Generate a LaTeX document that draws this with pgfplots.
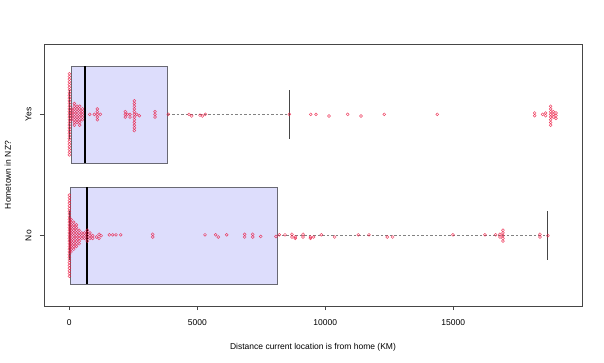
\documentclass[border=0pt]{standalone}
\usepackage{fontspec}
\setmainfont{Liberation Sans}
\usepackage{pgfplots}
\usepackage{pgfplotstable}
\pgfplotsset{compat=1.18}
\definecolor{boxfill}{RGB}{221,221,252}
\definecolor{boxedge}{RGB}{105,105,115}
\definecolor{ptc}{RGB}{235,25,65}
\definecolor{framec}{RGB}{70,70,70}
\definecolor{whisk}{RGB}{130,130,130}

\pgfplotstableread[row sep=\\]{
x k\\
0 -15\\0 -14\\0 -13\\0 -12\\0 -11\\0 -10\\0 -9\\0 -8\\0 -7\\0 -6\\0 -5\\0 -4\\0 -3\\0 -2\\0 -1\\0 0\\0 1\\0 2\\0 3\\0 4\\0 5\\0 6\\0 7\\0 8\\0 9\\0 10\\0 11\\0 12\\0 13\\0 14\\0 15\\
90 -2\\90 -1\\90 0\\90 1\\90 2\\
195 -4\\195 -3\\195 -2\\195 -1\\195 0\\195 1\\195 2\\195 3\\195 4\\
300 -3\\300 -2\\300 -1\\300 0\\300 1\\300 2\\300 3\\
405 -4\\405 -3\\405 -2\\405 -1\\405 0\\405 1\\405 2\\405 3\\
510 -2\\510 -1\\510 0\\510 1\\510 2\\
797 0\\977 0\\1094 -2\\1094 -1\\1094 0\\1094 1\\1094 2\\1211 0\\
2187 -1\\2187 0\\2187 1\\2265 0\\2370 -1\\2370 0\\
2539 -6\\2539 -5\\2539 -4\\2539 -3\\2539 -2\\2539 -1\\2539 0\\2539 1\\2539 2\\2539 3\\2539 4\\2539 5\\
2630 0\\2734 -0.5\\3348 -1\\3348 0\\3348 1\\3867 0\\
4676 0\\4781 -0.6\\5105 -0.3\\5195 -0.6\\5313 0\\
8594 0\\9430 0\\9637 0\\10145 -0.6\\10875 0\\11395 -0.6\\12305 0\\14375 0\\
18180 -0.5\\18180 0.5\\18492 0\\18609 -0.5\\18609 0.5\\
18805 -4\\18805 -3\\18805 -2\\18805 -1\\18805 0\\18805 1\\18805 2\\18805 3\\
18906 -1\\18906 0\\18906 1\\19012 -1.5\\19012 -0.5\\19012 0.5\\
}\yesdata

\pgfplotstableread[row sep=\\]{
x k\\
0 -15\\0 -14\\0 -13\\0 -12\\0 -11\\0 -10\\0 -9\\0 -8\\0 -7\\0 -6\\0 -5\\0 -4\\0 -3\\0 -2\\0 -1\\0 0\\0 1\\0 2\\0 3\\0 4\\0 5\\0 6\\0 7\\0 8\\0 9\\0 10\\0 11\\0 12\\0 13\\0 14\\0 15\\
66 -6\\66 -5\\66 -4\\66 -3\\66 -2\\66 -1\\66 0\\66 1\\66 2\\66 3\\66 4\\66 5\\66 6\\
172 -5\\172 -4\\172 -3\\172 -2\\172 -1\\172 0\\172 1\\172 2\\172 3\\172 4\\172 5\\
277 -4\\277 -3\\277 -2\\277 -1\\277 0\\277 1\\277 2\\277 3\\277 4\\
383 -3\\383 -2\\383 -1\\383 0\\383 1\\383 2\\
488 -1\\488 0\\488 1\\
594 -1\\594 0\\594 1\\
699 -2\\699 -1\\699 0\\699 1\\699 2\\
805 -1\\805 0\\805 1\\
910 -1\\910 0\\
1060 -0.5\\1160 0.5\\1160 -1\\1240 0\\
1563 0.3\\1695 0.3\\1824 0.3\\2008 0.3\\
3257 -0.5\\3257 0.5\\
5300 0.3\\5718 0.3\\5820 -0.5\\6148 0.3\\6851 -0.5\\6851 0.5\\7164 -0.5\\7164 0.5\\7477 -0.3\\
8074 -0.3\\8203 0.3\\8426 0.3\\8699 -0.5\\8699 0.5\\8828 -0.5\\8828 -1\\
9130 -0.5\\9130 0.5\\9420 -0.5\\9420 -1\\9545 -0.5\\9844 0.3\\
10367 -0.5\\11289 0.3\\11707 0.3\\12422 -0.5\\12633 -0.5\\14988 0.3\\
16238 0.3\\16656 0.3\\16824 -0.5\\16824 0.5\\
16941 -2\\16941 -1\\16941 0\\16941 1\\16941 2\\
18387 -0.5\\18387 0.5\\18699 0\\
}\nodata

\begin{document}
\begin{tikzpicture}[x=1pt,y=1pt]
\path[use as bounding box] (0,0) rectangle (604,362);
\begin{axis}[
  at={(44pt,56pt)}, anchor=south west,
  scale only axis, width=538pt, height=262pt,
  xmin=-990, xmax=20030, ymin=0.42, ymax=2.58,
  xtick={0,5000,10000,15000},
  ytick={1,2}, yticklabels={No,Yes},
  scaled x ticks=false,
  /pgf/number format/assume math mode=true,
  /pgf/number format/set thousands separator={},
  xtick pos=bottom, ytick pos=left,
  tick align=outside, major tick length=4pt,
  axis line style={framec, line width=0.8pt},
  tick style={framec, line width=0.6pt},
  every tick label/.append style={font=\fontsize{8.5}{10}\selectfont},
  label style={font=\fontsize{8.5}{10}\selectfont},
  xticklabel style={yshift=-6pt},
  yticklabel style={rotate=90, anchor=south, yshift=5pt},
  xlabel={Distance current location is from home (KM)},
  ylabel={Hometown in NZ?},
  xlabel style={at={(axis description cs:0.5,-0.157)}, anchor=center},
  ylabel style={at={(axis description cs:-0.067,0.5)}, anchor=center},
]
% Yes box
\addplot[whisk, line width=0.75pt, dash pattern=on 2.5pt off 2pt] coordinates {(3844,2) (8594,2)};
\addplot[whisk, line width=0.75pt, dash pattern=on 2.5pt off 2pt] coordinates {(0,2) (94,2)};
\addplot[framec, line width=0.6pt] coordinates {(8594,1.8) (8594,2.2)};
\addplot[framec, line width=0.6pt] coordinates {(0,1.8) (0,2.2)};
\addplot[fill=boxfill, draw=boxedge, line width=0.6pt] coordinates {(94,1.6) (3844,1.6) (3844,2.4) (94,2.4)} -- cycle;
\addplot[black, line width=1.6pt] coordinates {(613,1.6) (613,2.4)};
% No box
\addplot[whisk, line width=0.75pt, dash pattern=on 2.5pt off 2pt] coordinates {(8125,1) (18672,1)};
\addplot[whisk, line width=0.75pt, dash pattern=on 2.5pt off 2pt] coordinates {(0,1) (39,1)};
\addplot[framec, line width=0.6pt] coordinates {(18672,0.8) (18672,1.2)};
\addplot[framec, line width=0.6pt] coordinates {(0,0.8) (0,1.2)};
\addplot[fill=boxfill, draw=boxedge, line width=0.6pt] coordinates {(39,0.6) (8125,0.6) (8125,1.4) (39,1.4)} -- cycle;
\addplot[black, line width=1.6pt] coordinates {(680,0.6) (680,1.4)};
% points
\addplot[only marks, mark=o, mark size=1.45pt, mark options={draw=ptc, line width=0.5pt, draw opacity=0.8}]
  table[x=x, y expr={2+0.0223*\thisrow{k}}] {\yesdata};
\addplot[only marks, mark=o, mark size=1.45pt, mark options={draw=ptc, line width=0.5pt, draw opacity=0.8}]
  table[x=x, y expr={1+0.0223*\thisrow{k}}] {\nodata};
\end{axis}
\end{tikzpicture}
\end{document}
